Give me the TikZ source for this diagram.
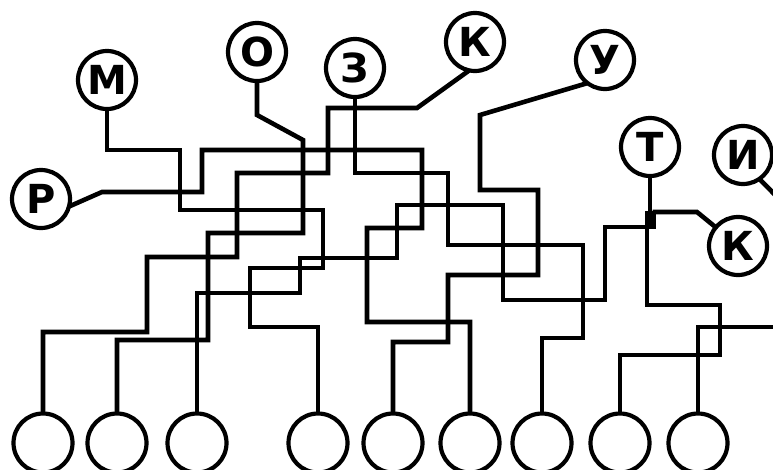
\documentclass[tikz,border=0pt]{standalone}
\usepackage{fontspec}
\setmainfont{DejaVu Sans}
\begin{document}
\begin{tikzpicture}[x=1pt,y=-1pt,
  wire/.style={line width=4.6pt, line join=miter, line cap=rect},
  lett/.style={circle, draw, line width=4.2pt, minimum size=58pt, inner sep=0pt, font=\fontsize{40}{40}\selectfont\bfseries},
  bot/.style={circle, draw, line width=4.2pt, minimum size=59pt, inner sep=0pt}]
\clip (0,0) rectangle (773,469);
\fill[white] (0,0) rectangle (773,469);
% top letter circles
\node[lett] (P)  at (41,199)  {Р};
\node[lett] (M)  at (107,80)  {М};
\node[lett] (O)  at (257,52)  {О};
\node[lett] (Z)  at (355,68)  {З};
\node[lett] (K1) at (475,42)  {К};
\node[lett] (U)  at (605,60)  {У};
\node[lett] (T)  at (650,147) {Т};
\node[lett] (I)  at (743,155) {И};
\node[lett] (K2) at (738,246) {К};
% bottom circles
\node[bot] (b1) at (43,443)  {};
\node[bot] (b2) at (117,443) {};
\node[bot] (b3) at (197,443) {};
\node[bot] (b4) at (318,443) {};
\node[bot] (b5) at (393,443) {};
\node[bot] (b6) at (470,443) {};
\node[bot] (b7) at (542,443) {};
\node[bot] (b8) at (620,443) {};
\node[bot] (b9) at (698,443) {};
% junction and free ends
\coordinate (J) at (650,220);
\coordinate (iout) at (795,215);
\coordinate (iin) at (795,327);
\fill (645,211) rectangle (656,229);
% wires
\draw[wire] (P.-12) -- (102,192) -- (202,192) -- (202,150) -- (422,150) -- (422,228) -- (367,228) -- (367,322) -- (470,322) -- (b6);
\draw[wire] (M) -- (107,150) -- (180,150) -- (180,210) -- (323,210) -- (323,268) -- (250,268) -- (250,327) -- (318,327) -- (b4);
\draw[wire] (O) -- (257,115) -- (303,140) -- (303,233) -- (208,233) -- (208,340) -- (117,340) -- (b2);
\draw[wire] (Z) -- (355,173) -- (448,173) -- (448,245) -- (583,245) -- (583,338) -- (542,338) -- (b7);
\draw[wire] (K1.255) -- (417,108) -- (328,108) -- (328,173) -- (237,173) -- (237,257) -- (147,257) -- (147,332) -- (43,332) -- (b1);
\draw[wire] (U.230) -- (480,115) -- (480,190) -- (538,190) -- (538,275) -- (448,275) -- (448,342) -- (393,342) -- (b5);
\draw[wire] (T) -- (650,212);
\draw[wire] (K2.140) -- (697,212) -- (655,212);
\draw[wire] (J) ++(-2,7) -- (605,227) -- (605,300) -- (503,300) -- (503,205) -- (397,205) -- (397,258) -- (300,258) -- (300,293) -- (197,293) -- (b3);
\draw[wire] (647,228) -- (647,305) -- (720,305) -- (720,355) -- (620,355) -- (b8);
\draw[wire] (I.-55) -- (iout);
\draw[wire] (iin) -- (698,327) -- (b9);
\end{tikzpicture}
\end{document}
